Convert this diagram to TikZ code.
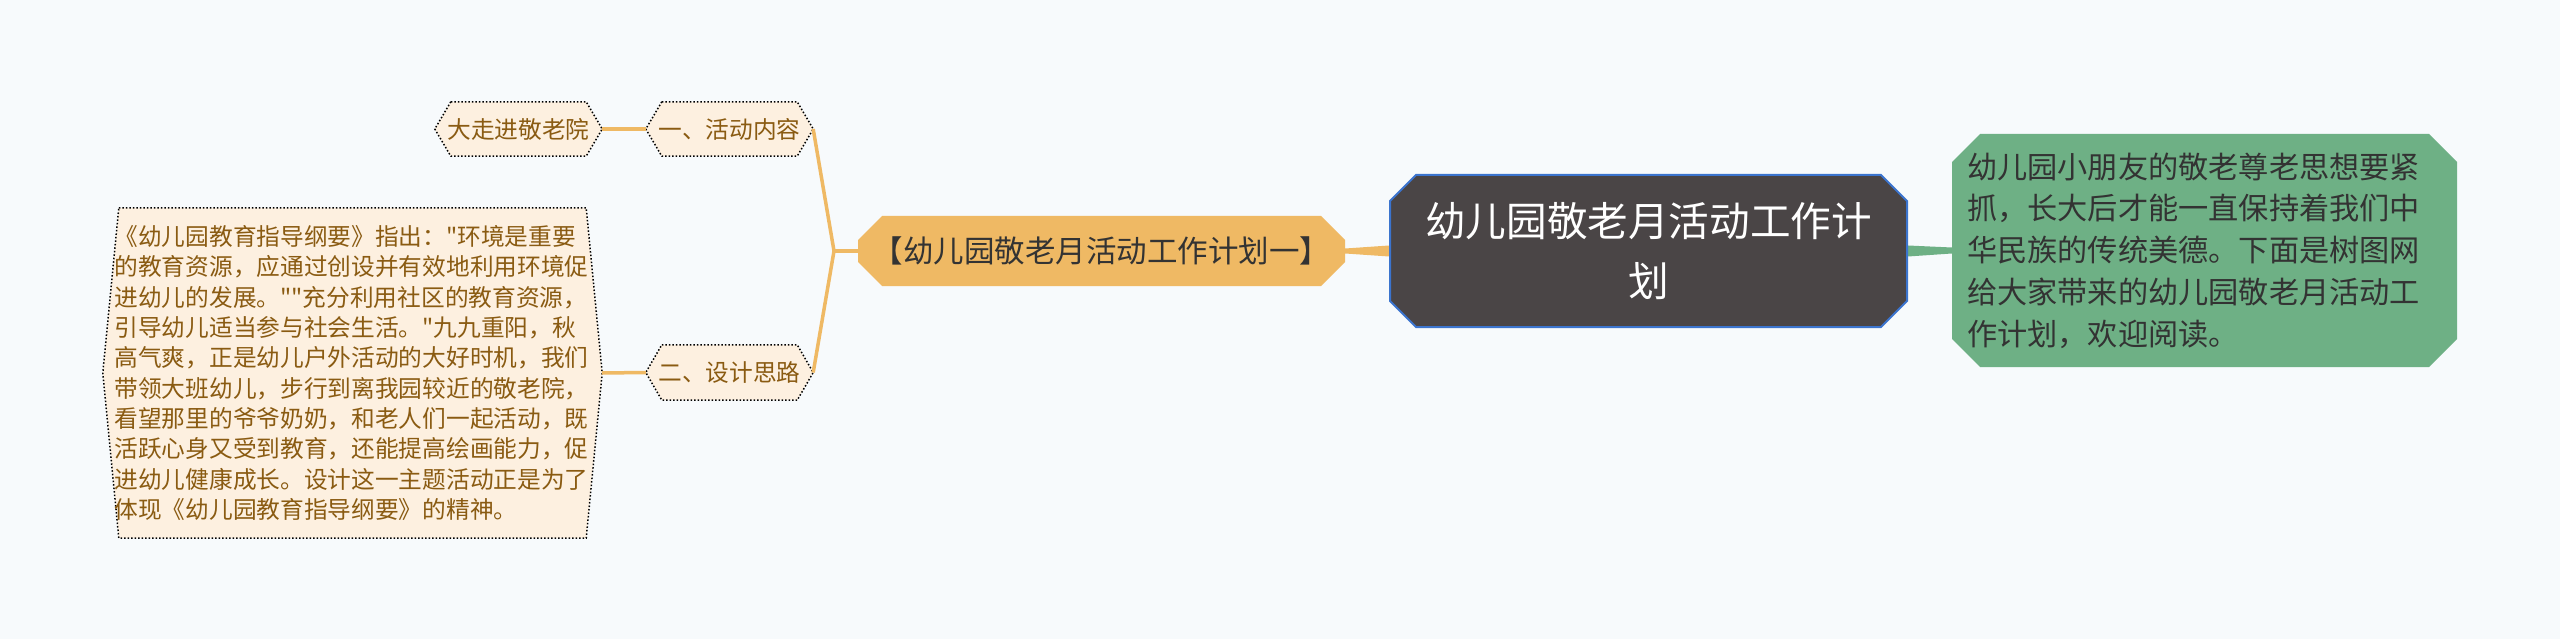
\documentclass[tikz,border=0pt]{standalone}
\usepackage{fontspec}
\setmainfont{Noto Sans CJK SC}[Ligatures=TeXOff]
\usetikzlibrary{shapes.misc,backgrounds}

\definecolor{bgcol}{HTML}{F7FAFC}
\definecolor{branchcol}{HTML}{EFB964}
\definecolor{peach}{HTML}{FDF0E0}
\definecolor{leafink}{HTML}{8A5B12}
\definecolor{rootfill}{HTML}{4A4546}
\definecolor{rootline}{HTML}{3B74CE}
\definecolor{notefill}{HTML}{6EB085}
\definecolor{inkgray}{HTML}{333333}

\newcommand{\hexframe}[2]{%
  \begin{scope}[on background layer]
    \draw[hexline] ([xshift=#2]#1.north west) -- ([xshift=-#2]#1.north east)
      -- (#1.east) -- ([xshift=-#2]#1.south east)
      -- ([xshift=#2]#1.south west) -- (#1.west) -- cycle;
  \end{scope}}

\begin{document}
\begin{tikzpicture}[x=1pt,y=-1pt,
    branch/.style={draw=branchcol,line width=3.5pt},
    hexline/.style={draw=black,fill=peach,line width=1.5pt,dotted},
    hexbox/.style={rectangle,inner sep=0pt,text=leafink,font=\fontsize{23.7}{30.3}\selectfont},
    rootbox/.style={chamfered rectangle,chamfered rectangle xsep=13pt,chamfered rectangle ysep=13pt,
        draw=rootline,line width=2pt,fill=rootfill,text=white,inner sep=0pt,align=center,
        font=\fontsize{40.6}{60}\selectfont},
    planbox/.style={chamfered rectangle,chamfered rectangle xsep=12pt,chamfered rectangle ysep=12pt,
        fill=branchcol,text=inkgray,inner sep=0pt,font=\fontsize{30.5}{36}\selectfont},
    notebox/.style={chamfered rectangle,chamfered rectangle xsep=14pt,chamfered rectangle ysep=14pt,
        fill=notefill,text=inkgray,inner sep=0pt,align=left,
        font=\fontsize{30.2}{41.7}\selectfont}]

    \begin{scope}[on background layer]
        \fill[bgcol] (0,0) rectangle (2560,639);
    \end{scope}

    \node[rootbox,minimum width=517pt,minimum height=152pt] (root) at (1648.5,251) {幼儿园敬老月活动工作计\\划};
    \node[planbox,minimum width=487pt,minimum height=70pt] (plan) at (1101.5,251) {【幼儿园敬老月活动工作计划一】};
    \node[notebox,minimum width=505pt,minimum height=233pt,text width=475pt] (intro) at (2204.5,250.5) {幼儿园小朋友的敬老尊老思想要紧\\抓，长大后才能一直保持着我们中\\华民族的传统美德。下面是树图网\\给大家带来的幼儿园敬老月活动工\\作计划，欢迎阅读。};

    \node[hexbox,minimum width=167pt,minimum height=54pt] (act) at (729.5,129) {一、活动内容};
    \node[hexbox,minimum width=167pt,minimum height=54pt] (walk) at (518.5,129) {大走进敬老院};
    \node[hexbox,minimum width=167pt,minimum height=55pt] (idea) at (729.5,372.5) {二、设计思路};
    \node[hexbox,minimum width=499pt,minimum height=330pt,text width=476pt,align=left] (why) at (352.5,373) {《幼儿园教育指导纲要》指出："环境是重要\\的教育资源，应通过创设并有效地利用环境促\\进幼儿的发展。""充分利用社区的教育资源，\\引导幼儿适当参与社会生活。"九九重阳，秋\\高气爽，正是幼儿户外活动的大好时机，我们\\带领大班幼儿，步行到离我园较近的敬老院，\\看望那里的爷爷奶奶，和老人们一起活动，既\\活跃心身又受到教育，还能提高绘画能力，促\\进幼儿健康成长。设计这一主题活动正是为了\\体现《幼儿园教育指导纲要》的精神。};

    \hexframe{act}{16pt}
    \hexframe{walk}{16pt}
    \hexframe{idea}{16pt}
    \hexframe{why}{16pt}

    \coordinate (fork) at (834,251);

    \begin{scope}[on background layer]
        \fill[branchcol] ([yshift=2.5pt]plan.east) -- ([yshift=5.5pt]root.west)
            -- ([yshift=-5.5pt]root.west) -- ([yshift=-2.5pt]plan.east) -- cycle;
        \fill[notefill] ([yshift=5.5pt]root.east) -- ([yshift=3pt]intro.west)
            -- ([yshift=-3pt]intro.west) -- ([yshift=-5.5pt]root.east) -- cycle;
    \end{scope}

    \draw[branch] (act.east) -- (fork) -- (idea.east);
    \draw[branch] (fork) -- (plan.west);
    \draw[branch] (walk.east) -- (act.west);
    \draw[branch] (why.east) -- (idea.west);
\end{tikzpicture}
\end{document}
